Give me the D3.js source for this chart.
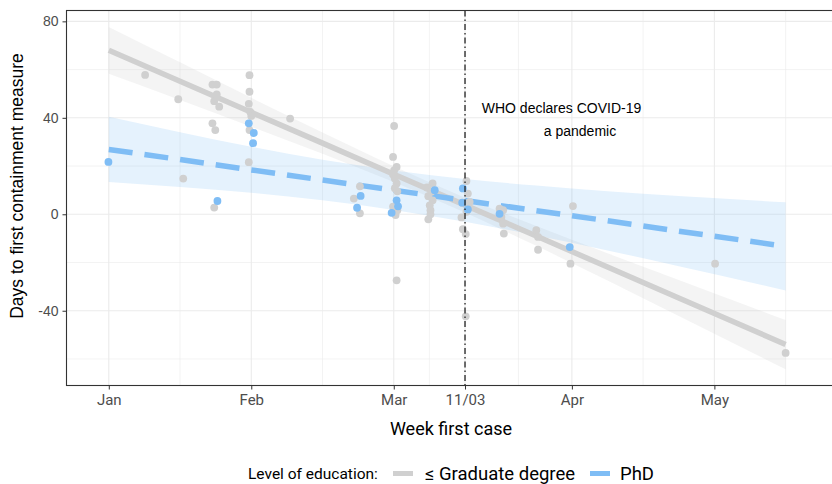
<!DOCTYPE html>
<html><head><meta charset="utf-8">
<script src="https://cdn.jsdelivr.net/npm/d3@7"></script>
<style>body{margin:0;background:#fff}svg{display:block}</style>
</head><body>
<svg id="c" width="832" height="484"></svg>
<script>
// ---- data (weeks of 2020, x jitter as read) ----
const gradWeek = [2.02,2.95,3.09,3.91,4.03,4.03,3.96,4.10,3.91,3.99,3.96,4.95,4.95,4.93,4.97,5.00,4.95,4.93,6.09,
  8.05,7.88,8.05,9.01,8.98,9.08,9.01,8.98,9.03,9.08,9.03,9.10,8.98,9.10,9.05,9.08,
  10.09,9.93,10.05,9.97,10.09,10.01,10.03,10.03,9.97,11.04,11.08,11.13,11.04,10.90,10.94,11.02,11.02,
  11.97,12.07,12.02,12.07,12.09,13.00,13.05,13.05,14.03,13.96,18.02,20.0];
const gradDays = [57.8,47.7,14.8,53.8,53.8,49.7,46.9,44.6,37.7,34.9,2.8,57.7,50.8,45.8,42.5,40.8,34.9,21.6,39.7,
  11.6,6.5,0.4,36.6,23.8,19.6,18.2,16.5,14.8,12.8,10.8,9.5,3.2,1.7,-0.3,-27.4,
  12.8,11.1,9.3,7.5,5.8,3.7,1.7,0.0,-2.1,13.8,8.6,5.1,1.0,-1.3,-6.2,-8.2,-42.3,
  2.3,1.7,-1.1,-3.9,-8.0,-6.6,-9.4,-14.7,3.4,-20.5,-20.5,-57.5];
const phdWeek = [0.99,4.05,4.93,5.07,5.05,8.07,7.97,9.08,9.12,8.94,10.15,10.94,10.92,11.08,11.97,13.94];
const phdDays = [21.7,5.5,37.7,33.7,29.5,7.6,2.7,5.8,3.3,0.6,10.0,10.7,4.8,2.0,0.2,-13.6];

// fitted lines and confidence bands
const fitWeeks = [1,3,5,7,9,11,13,15,17,20];
const gradFit = [68.0,55.2,42.3,29.5,16.6,3.8,-9.0,-21.9,-34.7,-54.0];
const gradLo  = [58.3,47.4,36.3,25.1,13.4,0.7,-13.1,-27.5,-42.2,-64.3];
const gradHi  = [77.7,63.0,48.3,33.9,19.9,6.9,-4.9,-16.2,-27.3,-43.8];
const phdFit  = [26.9,22.7,18.4,14.2,10.0,5.7,1.5,-2.7,-7.0,-13.3];
const phdLo   = [13.4,11.3,8.9,5.8,1.8,-3.1,-8.8,-15.0,-21.5,-31.6];
const phdHi   = [40.4,34.0,28.0,22.6,18.2,14.6,11.9,9.6,7.6,5.0];

const xTickWeeks = [1,5,9,11,14,18];
const xTickLabels = ["Jan","Feb","Mar","11/03","Apr","May"];
const xMinorWeeks = [3,7,10,12.5,16,20];
const yTicks = [-40,0,40,80];
const yTickLabels = ["-40","0","40","80"];
const yMinor = [-60,-20,20,60];
const pandemicWeek = 11;
const annotation = ["WHO declares COVID-19","a pandemic"];
const legendTitle = "Level of education:";
const seriesNames = ["≤ Graduate degree","PhD"];

// ---- drawing ----
const gray = "#d0d0d0", blue = "#7fbdf5";
const svg = d3.select("#c");
const L = 66.5, T = 10.5, R = 834, B = 385.5;
const x = d3.scaleLinear().domain([-0.187, 21.33]).range([L, 833]);
const y = d3.scaleLinear().domain([-71.0, 84.5]).range([B, T]);

svg.append("clipPath").attr("id","clip").append("rect")
  .attr("x",L).attr("y",T).attr("width",R-L).attr("height",B-T);
const panel = svg.append("g").attr("clip-path","url(#clip)");

// grid
panel.selectAll(".ym").data(yMinor).join("line")
  .attr("x1",L).attr("x2",R).attr("y1",d=>y(d)).attr("y2",d=>y(d))
  .attr("stroke","#ebebeb").attr("stroke-width",0.6);
panel.selectAll(".xm").data(xMinorWeeks).join("line")
  .attr("y1",T).attr("y2",B).attr("x1",d=>x(d)).attr("x2",d=>x(d))
  .attr("stroke","#ebebeb").attr("stroke-width",0.6);
panel.selectAll(".yM").data(yTicks).join("line")
  .attr("x1",L).attr("x2",R).attr("y1",d=>y(d)).attr("y2",d=>y(d))
  .attr("stroke","#ebebeb").attr("stroke-width",1.1);
panel.selectAll(".xM").data(xTickWeeks).join("line")
  .attr("y1",T).attr("y2",B).attr("x1",d=>x(d)).attr("x2",d=>x(d))
  .attr("stroke","#ebebeb").attr("stroke-width",1.1);

// ribbons
const area = (lo,hi)=>d3.area().x((d,i)=>x(fitWeeks[i])).y0((d,i)=>y(lo[i])).y1((d,i)=>y(hi[i])).curve(d3.curveMonotoneX)(fitWeeks);
panel.append("path").attr("d",area(gradLo,gradHi)).attr("fill","#c8c8c8").attr("fill-opacity",0.2);
panel.append("path").attr("d",area(phdLo,phdHi)).attr("fill","#7fbdf5").attr("fill-opacity",0.2);

// lines
const line = vals=>d3.line().x((d,i)=>x(fitWeeks[i])).y((d,i)=>y(vals[i]))(fitWeeks);
panel.append("path").attr("d",line(gradFit)).attr("fill","none").attr("stroke",gray).attr("stroke-width",5.5);
panel.append("path").attr("d",line(phdFit)).attr("fill","none").attr("stroke",blue).attr("stroke-width",5.5)
  .attr("stroke-dasharray","24,12");

// points
panel.selectAll(".pg").data(gradWeek).join("circle")
  .attr("cx",d=>x(d)).attr("cy",(d,i)=>y(gradDays[i])).attr("r",3.9).attr("fill",gray);
panel.selectAll(".pp").data(phdWeek).join("circle")
  .attr("cx",d=>x(d)).attr("cy",(d,i)=>y(phdDays[i])).attr("r",3.9).attr("fill",blue);

// vertical dotdash line
panel.append("line").attr("x1",x(pandemicWeek)).attr("x2",x(pandemicWeek)).attr("y1",T).attr("y2",B)
  .attr("stroke","#222").attr("stroke-width",1.3).attr("stroke-dasharray","6,3,1.5,3");

// annotation
svg.append("text").attr("x",561.5).attr("y",113).attr("text-anchor","middle").text(annotation[0])
  .attr("font-family","Liberation Sans, Arial, sans-serif").attr("font-size",14).attr("fill","#000");
svg.append("text").attr("x",580).attr("y",136).attr("text-anchor","middle").text(annotation[1])
  .attr("font-family","Liberation Sans, Arial, sans-serif").attr("font-size",14).attr("fill","#000");

// panel border
svg.append("rect").attr("x",L).attr("y",T).attr("width",R-L).attr("height",B-T)
  .attr("fill","none").attr("stroke","#333").attr("stroke-width",1.1);

// axes
const xAxis = svg.append("g").attr("transform",`translate(0,${B})`)
  .call(d3.axisBottom(x).tickValues(xTickWeeks).tickFormat((d,i)=>xTickLabels[i]).tickSize(4).tickPadding(5));
xAxis.select(".domain").remove();
xAxis.selectAll("line").attr("stroke","#333");
xAxis.selectAll("text").attr("font-family","Roboto, sans-serif").attr("font-size",15).attr("fill","#4d4d4d");

const yAxis = svg.append("g").attr("transform",`translate(${L},0)`)
  .call(d3.axisLeft(y).tickValues(yTicks).tickFormat((d,i)=>yTickLabels[i]).tickSize(4).tickPadding(4));
yAxis.select(".domain").remove();
yAxis.selectAll("line").attr("stroke","#333");
yAxis.selectAll("text").attr("font-family","Liberation Sans, Arial, sans-serif").attr("font-size",14).attr("fill","#4d4d4d");

// axis titles
svg.append("text").attr("x",451).attr("y",435).attr("text-anchor","middle").text("Week first case")
  .attr("font-family","Roboto, sans-serif").attr("font-size",18).attr("fill","#000");
svg.append("text").attr("transform","translate(23,186) rotate(-90)").attr("text-anchor","middle")
  .text("Days to first containment measure")
  .attr("font-family","Liberation Sans, Arial, sans-serif").attr("font-size",17.5).attr("fill","#000");

// legend
const lg = svg.append("g");
lg.append("text").attr("x",248).attr("y",479).text(legendTitle)
  .attr("font-family","Roboto, sans-serif").attr("font-size",15.5).attr("fill","#000");
lg.append("rect").attr("x",393).attr("y",471).attr("width",20).attr("height",5).attr("fill",gray);
lg.append("text").attr("x",425).attr("y",480).text(seriesNames[0])
  .attr("font-family","Roboto, sans-serif").attr("font-size",18.5).attr("fill","#000");
lg.append("rect").attr("x",590).attr("y",471).attr("width",20).attr("height",5).attr("fill",blue);
lg.append("text").attr("x",620).attr("y",480).text(seriesNames[1])
  .attr("font-family","Roboto, sans-serif").attr("font-size",18.5).attr("fill","#000");
</script>
</body></html>
